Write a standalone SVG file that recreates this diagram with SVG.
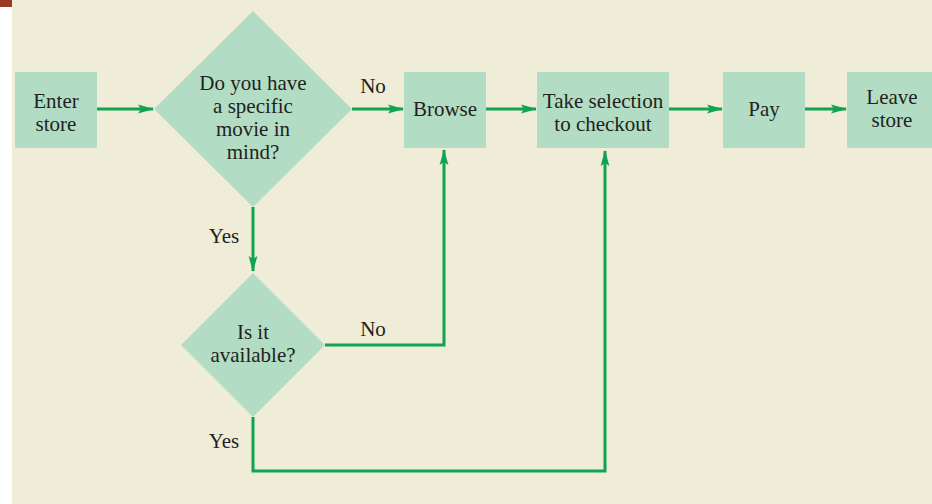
<svg xmlns="http://www.w3.org/2000/svg" width="932" height="504" viewBox="0 0 932 504">
  <style>
    .box { fill: #b2ddc4; }
    .lbl { font-family: "Liberation Serif", "Times New Roman", serif; font-size: 21px; fill: #231f20; text-anchor: middle; }
    .edge { fill: none; stroke: #10a352; stroke-width: 3; }
  </style>
  <defs>
    <marker id="arrow" viewBox="0 0 16 10" refX="15" refY="5" markerUnits="userSpaceOnUse" markerWidth="16" markerHeight="10" orient="auto">
      <path d="M0,0.6 L16,5 L0,9.4 L3,5 Z" fill="#10a352"/>
    </marker>
  </defs>

  <!-- page -->
  <rect x="0" y="0" width="932" height="504" fill="#ffffff"/>
  <rect x="12" y="0" width="920" height="504" fill="#efedd8"/>
  <rect x="0" y="0" width="12" height="7" fill="#9b3a24"/>

  <!-- connectors -->
  <g id="connectors">
    <path class="edge" d="M97,109 H153" marker-end="url(#arrow)"/>
    <path class="edge" d="M352,109 H403" marker-end="url(#arrow)"/>
    <path class="edge" d="M486,109 H536" marker-end="url(#arrow)"/>
    <path class="edge" d="M669,109 H722" marker-end="url(#arrow)"/>
    <path class="edge" d="M805,109 H846" marker-end="url(#arrow)"/>
    <path class="edge" d="M253,207 V271" marker-end="url(#arrow)"/>
    <path class="edge" d="M325,345 H444 V150" marker-end="url(#arrow)"/>
    <path class="edge" d="M253,417 V471 H605 V151" marker-end="url(#arrow)"/>
    <text class="lbl" x="373" y="93">No</text>
    <text class="lbl" x="224" y="243">Yes</text>
    <text class="lbl" x="373" y="336">No</text>
    <text class="lbl" x="224" y="448">Yes</text>
  </g>

  <g id="enter">
    <rect class="box" x="15" y="72" width="82" height="76"/>
    <text class="lbl" x="56" y="108">Enter</text>
    <text class="lbl" x="56" y="131">store</text>
  </g>

  <g id="specific">
    <polygon class="box" points="253,11 352,109 253,207 154,109"/>
    <text class="lbl" x="253" y="90">Do you have</text>
    <text class="lbl" x="253" y="113">a specific</text>
    <text class="lbl" x="253" y="136">movie in</text>
    <text class="lbl" x="253" y="159">mind?</text>
  </g>

  <g id="available">
    <polygon class="box" points="253,273 325,345 253,417 181,345"/>
    <text class="lbl" x="253" y="339">Is it</text>
    <text class="lbl" x="253" y="362">available?</text>
  </g>

  <g id="browse">
    <rect class="box" x="404" y="72" width="82" height="76"/>
    <text class="lbl" x="445" y="116">Browse</text>
  </g>

  <g id="checkout">
    <rect class="box" x="537" y="72" width="132" height="76"/>
    <text class="lbl" x="603" y="108">Take selection</text>
    <text class="lbl" x="603" y="131">to checkout</text>
  </g>

  <g id="pay">
    <rect class="box" x="723" y="72" width="82" height="76"/>
    <text class="lbl" x="764" y="116">Pay</text>
  </g>

  <g id="leave">
    <rect class="box" x="847" y="72" width="90" height="76"/>
    <text class="lbl" x="892" y="104">Leave</text>
    <text class="lbl" x="892" y="127">store</text>
  </g>
</svg>
